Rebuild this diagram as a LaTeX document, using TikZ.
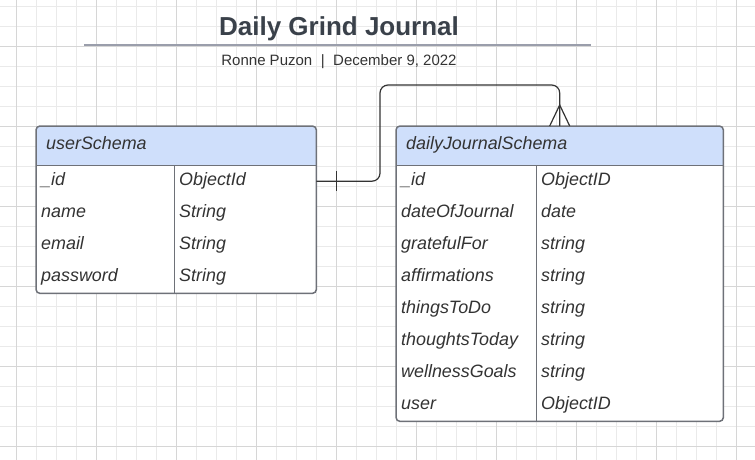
\documentclass[tikz,border=0pt]{standalone}
\usepackage{fontspec}
\setmainfont{Liberation Sans}
\usepackage{xcolor}
\usepackage{tikz}
\usetikzlibrary{positioning,calc}

\definecolor{gridminor}{HTML}{EAEAEA}
\definecolor{gridmajor}{HTML}{D6D6D6}
\definecolor{hdrblue}{HTML}{CFDFFB}
\definecolor{tblgray}{HTML}{6E7178}
\definecolor{inkgray}{HTML}{333333}
\definecolor{titlegray}{HTML}{3A414A}
\definecolor{rulegray}{HTML}{9A9EAB}

\tikzset{
    tblbox/.style={fill=white, inner sep=0pt, anchor=north west},
    tbledge/.style={draw=tblgray, line width=1.5pt, rounded corners=4pt},
    hdr/.style={fill=hdrblue, rounded corners=4pt, anchor=north west, minimum height=39pt, inner xsep=10pt, align=left, text height=12.5pt, text depth=4pt, font=\fontsize{17.9}{21}\selectfont\itshape, text=inkgray},
    cell/.style={anchor=north west, minimum height=32pt, inner xsep=5pt, inner ysep=0pt, align=left, text height=12.5pt, text depth=4pt, font=\fontsize{17.9}{21}\selectfont\itshape, text=inkgray},
    rel/.style={draw=inkgray, line width=1.2pt}
}

\begin{document}
\begin{tikzpicture}[x=1pt,y=-1pt]
    \useasboundingbox (0,0) rectangle (755,460);
    % Grid
    \foreach \x in {16.7,36.7,...,755} \draw[gridminor, line width=0.8pt] (\x,0) -- (\x,460);
    \foreach \y in {6.7,26.7,...,460} \draw[gridminor, line width=0.8pt] (0,\y) -- (755,\y);
    \foreach \x in {16.7,96.7,...,755} \draw[gridmajor, line width=0.8pt] (\x,0) -- (\x,460);
    \foreach \y in {46.7,126.7,...,460} \draw[gridmajor, line width=0.8pt] (0,\y) -- (755,\y);

    % Title
    \node[anchor=base, font=\fontsize{26}{30}\selectfont\bfseries, text=titlegray, inner sep=0pt] (title) at (339,36) {Daily Grind Journal};
    \draw[rulegray, line width=2pt] (84,45) -- (591,45);
    \node[anchor=base, font=\fontsize{15}{18}\selectfont, text=inkgray, inner sep=0pt] (byline) at (339,66) {Ronne Puzon\hspace{8.5pt}|\hspace{8.5pt}December 9, 2022};

    % userSchema
    \node[tblbox, minimum width=280pt, minimum height=167pt, rounded corners=4pt] (user) at (36,126) {};
    \node[hdr, text width=260pt] (uhead) at (user.north west) {userSchema};
    \fill[hdrblue] ([yshift=8pt]uhead.south west) rectangle (uhead.south east);
    \foreach \k/\v [count=\i] in {\_id/ObjectId, name/String, email/String, password/String} {
        \node[cell, text width=128pt] (ukey\i) at (36,{165+32*(\i-1)}) {\k};
        \node[cell, text width=132pt] (uval\i) at (174,{165+32*(\i-1)}) {\v};
    }
    \draw[tbledge] (user.north west) rectangle (user.south east);
    \draw[tblgray, line width=1.5pt] (uhead.south west) -- (uhead.south east);
    \draw[tblgray, line width=1.2pt] (ukey1.north east) -- (ukey4.south east);

    % dailyJournalSchema
    \node[tblbox, minimum width=327pt, minimum height=295pt, rounded corners=4pt] (journal) at (396,126) {};
    \node[hdr, text width=307pt] (jhead) at (journal.north west) {dailyJournalSchema};
    \fill[hdrblue] ([yshift=8pt]jhead.south west) rectangle (jhead.south east);
    \foreach \k/\v [count=\i] in {\_id/ObjectID, dateOfJournal/date, gratefulFor/string, affirmations/string, thingsToDo/string, thoughtsToday/string, wellnessGoals/string, user/ObjectID} {
        \node[cell, text width=130pt] (jkey\i) at (396,{165+32*(\i-1)}) {\k};
        \node[cell, text width=177pt] (jval\i) at (536,{165+32*(\i-1)}) {\v};
    }
    \draw[tbledge] (journal.north west) rectangle (journal.south east);
    \draw[tblgray, line width=1.5pt] (jhead.south west) -- (jhead.south east);
    \draw[tblgray, line width=1.2pt] (jkey1.north east) -- (jkey8.south east);

    % Relationship: one user -- many journal entries
    \coordinate (bend) at (380,85);
    \draw[rel, rounded corners=8pt] (uval1.east) -| (bend) -| (jhead.north);
    \draw[rel] ([xshift=20pt,yshift=10pt]uval1.east) -- ([xshift=20pt,yshift=-10pt]uval1.east);
    \draw[rel] ([xshift=-10pt]jhead.north) -- ([yshift=21pt]jhead.north) -- ([xshift=10pt]jhead.north);
\end{tikzpicture}
\end{document}
